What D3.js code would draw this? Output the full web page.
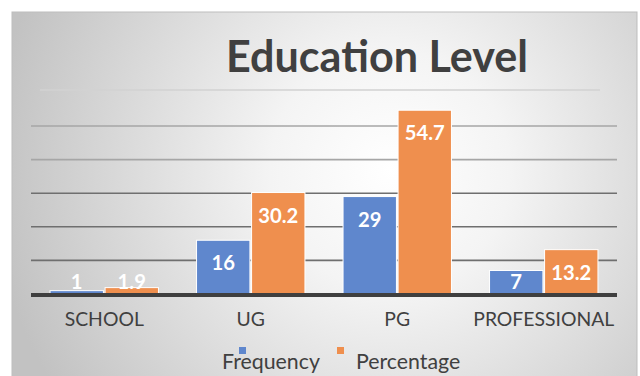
<!DOCTYPE html>
<html>
<head>
<meta charset="utf-8">
<script src="https://cdn.jsdelivr.net/npm/d3@7"></script>
<style>
  html, body { margin: 0; padding: 0; background: #ffffff; }
  svg { display: block; font-family: Lato, "Noto Sans", sans-serif; }
</style>
</head>
<body>
<div id="chart"></div>
<script>
  // data
  var categories = ["SCHOOL", "UG", "PG", "PROFESSIONAL"];
  var seriesNames = ["Frequency", "Percentage"];
  var frequency = [1, 16, 29, 7];
  var percentage = [1.9, 30.2, 54.7, 13.2];
  var gridTicks = [10, 20, 30, 40, 50];

  var width = 640, height = 376;
  var colors = { Frequency: "#5f87cd", Percentage: "#ef8f4e" };
  var textColor = "#404040";

  var svg = d3.select("#chart").append("svg")
    .attr("width", width)
    .attr("height", height);

  // shrink/grow a text so it spans the wanted width
  function fitWidth(sel, base, target) {
    var w = sel.node().getComputedTextLength();
    return base * target / w;
  }

  // background panel with a soft radial gradient
  var defs = svg.append("defs");
  var grad = defs.append("radialGradient")
    .attr("id", "bg")
    .attr("gradientUnits", "userSpaceOnUse")
    .attr("cx", 390).attr("cy", 170).attr("r", 400);
  grad.append("stop").attr("offset", "0").attr("stop-color", "#ffffff");
  grad.append("stop").attr("offset", "0.3").attr("stop-color", "#f4f4f4");
  grad.append("stop").attr("offset", "1").attr("stop-color", "#c2c2c2");

  svg.append("rect")
    .attr("x", 12).attr("y", 12)
    .attr("width", 625).attr("height", 370)
    .attr("fill", "url(#bg)")
    .attr("stroke", "#bdbdbd")
    .attr("stroke-width", 1);

  // faint line under the title
  svg.append("line")
    .attr("x1", 40).attr("x2", 600)
    .attr("y1", 90).attr("y2", 90)
    .attr("stroke", "#d2d2d2")
    .attr("stroke-width", 1.5);

  var plot = { left: 31, right: 617, bottom: 294, top: 126 };

  var x0 = d3.scaleBand()
    .domain(categories)
    .range([plot.left, plot.right])
    .paddingInner(0.26)
    .paddingOuter(0.13);

  var x1 = d3.scaleBand()
    .domain(seriesNames)
    .range([0, x0.bandwidth()])
    .paddingInner(0.03);

  var y = d3.scaleLinear()
    .domain([0, 50])
    .range([plot.bottom, plot.top]);

  // gridlines
  svg.append("g")
    .attr("class", "grid")
    .selectAll("line")
    .data(gridTicks)
    .join("line")
    .attr("x1", plot.left).attr("x2", plot.right)
    .attr("y1", d => y(d)).attr("y2", d => y(d))
    .attr("stroke", d => d >= 40 ? "#a6a6a6" : "#6f6f6f")
    .attr("stroke-width", 1.6);

  var rows = categories.map((c, i) => ({
    category: c,
    values: [
      { key: "Frequency", value: frequency[i] },
      { key: "Percentage", value: percentage[i] }
    ]
  }));

  var groups = svg.append("g")
    .selectAll("g")
    .data(rows)
    .join("g")
    .attr("transform", d => `translate(${x0(d.category)},0)`);

  groups.selectAll("rect")
    .data(d => d.values)
    .join("rect")
    .attr("x", d => x1(d.key))
    .attr("y", d => y(d.value))
    .attr("width", x1.bandwidth())
    .attr("height", d => y(0) - y(d.value))
    .attr("fill", d => colors[d.key])
    .attr("stroke", "#ffffff")
    .attr("stroke-width", 1);

  var labels = groups.selectAll("text")
    .data(d => d.values)
    .join("text")
    .attr("x", d => x1(d.key) + x1.bandwidth() / 2)
    .attr("y", d => Math.min(y(d.value) + 22, plot.bottom - 13))
    .attr("text-anchor", "middle")
    .attr("dominant-baseline", "central")
    .attr("fill", "#ffffff")
    .attr("font-weight", "bold")
    .attr("font-size", 17)
    .text(d => d.value);
  var labelSize = fitWidth(labels.filter(d => d.value === 54.7), 17, 40);
  labels.attr("font-size", labelSize);

  // baseline
  svg.append("line")
    .attr("x1", plot.left).attr("x2", plot.right)
    .attr("y1", plot.bottom + 1).attr("y2", plot.bottom + 1)
    .attr("stroke", "#3f3f3f")
    .attr("stroke-width", 4);

  // category axis
  var xAxis = svg.append("g")
    .attr("transform", `translate(0,${plot.bottom + 18})`)
    .call(d3.axisBottom(x0).tickSize(0).tickPadding(0));
  xAxis.select(".domain").remove();
  var tickText = xAxis.selectAll("text")
    .attr("fill", textColor)
    .attr("font-family", "Lato, 'Noto Sans', sans-serif")
    .attr("font-size", 17.5)
    .attr("dy", "0.71em");
  var tickSize = fitWidth(tickText.filter(d => d === "PROFESSIONAL"), 17.5, 141);
  tickText.attr("font-size", tickSize);

  // title
  var title = svg.append("text")
    .attr("x", 377)
    .attr("y", 72)
    .attr("text-anchor", "middle")
    .attr("fill", textColor)
    .attr("font-weight", "bold")
    .attr("font-size", 40)
    .text("Education Level");
  title.attr("font-size", fitWidth(title, 40, 302));

  // legend
  var legendPos = { Frequency: 222, Percentage: 356 };
  var legend = svg.append("g")
    .selectAll("g")
    .data(seriesNames)
    .join("g");
  legend.append("rect")
    .attr("x", d => d === "Frequency" ? legendPos[d] + 17 : legendPos[d] - 19)
    .attr("y", 347)
    .attr("width", 7).attr("height", 7)
    .attr("fill", d => colors[d]);
  var legendText = legend.append("text")
    .attr("x", d => legendPos[d])
    .attr("y", 361)
    .attr("dominant-baseline", "central")
    .attr("fill", textColor)
    .attr("font-size", 17.5)
    .text(d => d);
  var legendSize = fitWidth(legendText.filter(d => d === "Frequency"), 17.5, 98);
  legendText.attr("font-size", legendSize);
</script>
</body>
</html>
